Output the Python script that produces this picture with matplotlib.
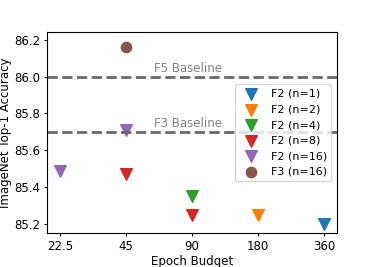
import matplotlib
matplotlib.use("Agg")
import matplotlib.pyplot as plt

# F2 results for each n: (epoch budget, accuracy)
f2_n1_x = [360]
f2_n1_y = [85.20]
f2_n2_x = [180]
f2_n2_y = [85.25]
f2_n4_x = [90]
f2_n4_y = [85.35]
f2_n8_x = [45, 90]
f2_n8_y = [85.47, 85.25]
f2_n16_x = [22.5, 45]
f2_n16_y = [85.49, 85.71]
f3_n16_x = [45]
f3_n16_y = [86.16]

f5_baseline = 86.0
f3_baseline = 85.7
xticks = [22.5, 45, 90, 180, 360]

plt.rcParams["font.size"] = 8.5
plt.rcParams["xtick.major.size"] = 2.5
plt.rcParams["ytick.major.size"] = 2.5
plt.rcParams["xtick.major.pad"] = 2.5
plt.rcParams["ytick.major.pad"] = 2.5

fig, ax = plt.subplots(figsize=(3.74, 2.67), dpi=100)

ax.axhline(f5_baseline, color="dimgray", ls="--", lw=2)
ax.axhline(f3_baseline, color="dimgray", ls="--", lw=2)
ax.text(60, f5_baseline + 0.008, "F5 Baseline", color="gray", fontsize=8.5, va="bottom")
ax.text(60, f3_baseline + 0.008, "F3 Baseline", color="gray", fontsize=8.5, va="bottom")

ax.scatter(f2_n1_x, f2_n1_y, marker="v", s=70, color="C0", label="F2 (n=1)")
ax.scatter(f2_n2_x, f2_n2_y, marker="v", s=70, color="C1", label="F2 (n=2)")
ax.scatter(f2_n4_x, f2_n4_y, marker="v", s=70, color="C2", label="F2 (n=4)")
ax.scatter(f2_n8_x, f2_n8_y, marker="v", s=70, color="C3", label="F2 (n=8)")
ax.scatter(f2_n16_x, f2_n16_y, marker="v", s=70, color="C4", label="F2 (n=16)")
ax.scatter(f3_n16_x, f3_n16_y, marker="o", s=55, color="C5", label="F3 (n=16)")

ax.set_xscale("log", base=2)
ax.set_xticks(xticks)
ax.set_xticklabels(["22.5", "45", "90", "180", "360"])
ax.minorticks_off()
ax.set_ylim(85.15, 86.24)
ax.set_yticks([85.2, 85.4, 85.6, 85.8, 86.0, 86.2])
ax.set_xlabel("Epoch Budget", labelpad=1.5)
ax.set_ylabel("ImageNet Top-1 Accuracy", labelpad=1.5)
ax.legend(loc="center right", fontsize=8, labelspacing=0.5)

plt.subplots_adjust(left=0.126, right=0.901, top=0.879, bottom=0.126)
plt.savefig("out.png")
